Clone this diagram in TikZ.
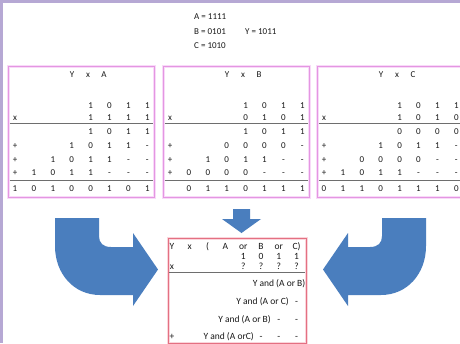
\documentclass[tikz,border=0pt]{standalone}
\usepackage{fontspec}
\setmainfont{Carlito}
\definecolor{framelilac}{RGB}{182,168,212}
\definecolor{boxpink}{RGB}{228,150,226}
\definecolor{boxglow}{RGB}{248,218,248}
\definecolor{resred}{RGB}{228,112,130}
\definecolor{resglow}{RGB}{250,214,220}
\definecolor{arrowblue}{RGB}{74,126,190}
\definecolor{rulegrey}{RGB}{110,110,110}
\definecolor{ink}{RGB}{25,25,25}
\tikzset{
  dig/.style={font=\fontsize{9}{10}\selectfont, text=ink, inner sep=0pt,
              text height=6pt, text depth=0pt, anchor=center},
  ttl/.style={dig},
  eqn/.style={dig, anchor=west},
  rdig/.style={dig, font=\fontsize{9.5}{11}\selectfont},
  rtxt/.style={rdig, anchor=east},
  panel/.style={draw=boxpink, line width=0.7pt},
  panelglow/.style={draw=boxglow, line width=3pt},
  respanel/.style={draw=resred, line width=0.7pt},
  resglowline/.style={draw=resglow, line width=3pt},
  sep/.style={draw=rulegrey, line width=0.8pt},
  bigarrow/.style={fill=arrowblue, draw=none}
}
% one row of a product table: #1 panel, #2 row tag, #3 panel left x, #4 y, #5 col/value list
\newcommand\tabrow[5]{%
  \foreach \c/\v in {#5}
    \node[dig] (#1-#2-\c) at ({#3+7+18.9*\c},#4) {\v};}
% one row of the result table: #1 row tag, #2 y, #3 col/value list
\newcommand\resrow[3]{%
  \foreach \c/\v in {#3}
    \node[rdig] (R-#1-\c) at ({172+17.8*\c},#2) {\v};}
\begin{document}
\begin{tikzpicture}[x=1pt,y=-1pt]
  \useasboundingbox (0,0) rectangle (460,343);
  \fill[white] (0,0) rectangle (460,343);
  \fill[framelilac] (0,0) rectangle (460,3);
  \fill[framelilac] (0,0) rectangle (2.6,343);

  % operands
  \node[eqn] (eqA) at (194,16.5) {A = 1111};
  \node[eqn] (eqB) at (194,31) {B = 0101};
  \node[eqn] (eqC) at (194,45.5) {C = 1010};
  \node[eqn] (eqY) at (245,31) {Y = 1011};

  % three product panels
  \foreach \L/\nm in {8/pA,163/pB,317/pC}{
    \path[panelglow] (\L,66.5) rectangle ++(146,130.5);
    \path[panel] (\L,66.5) rectangle ++(146,130.5);
    \path[sep] (\L+1.5,123.5) -- ++(143,0);
    \path[sep] (\L+1.5,180) -- ++(143,0);
  }

  % Y x A
  \node[ttl] (tA-Y) at (72,74) {Y};
  \node[ttl] (tA-x) at (88,74) {x};
  \node[ttl] (tA-o) at (104,74) {A};
  \tabrow{A}{r1}{8}{105}{4/1,5/0,6/1,7/1}
  \tabrow{A}{r2}{8}{117}{0/x,4/1,5/1,6/1,7/1}
  \tabrow{A}{r3}{8}{131}{4/1,5/0,6/1,7/1}
  \tabrow{A}{r4}{8}{145}{0/+,3/1,4/0,5/1,6/1,7/-}
  \tabrow{A}{r5}{8}{159}{0/+,2/1,3/0,4/1,5/1,6/-,7/-}
  \tabrow{A}{r6}{8}{172}{0/+,1/1,2/0,3/1,4/1,5/-,6/-,7/-}
  \tabrow{A}{r7}{8}{188}{0/1,1/0,2/1,3/0,4/0,5/1,6/0,7/1}

  % Y x B
  \node[ttl] (tB-Y) at (227,74) {Y};
  \node[ttl] (tB-x) at (243,74) {x};
  \node[ttl] (tB-o) at (259,74) {B};
  \tabrow{B}{r1}{163}{105}{4/1,5/0,6/1,7/1}
  \tabrow{B}{r2}{163}{117}{0/x,4/0,5/1,6/0,7/1}
  \tabrow{B}{r3}{163}{131}{4/1,5/0,6/1,7/1}
  \tabrow{B}{r4}{163}{145}{0/+,3/0,4/0,5/0,6/0,7/-}
  \tabrow{B}{r5}{163}{159}{0/+,2/1,3/0,4/1,5/1,6/-,7/-}
  \tabrow{B}{r6}{163}{172}{0/+,1/0,2/0,3/0,4/0,5/-,6/-,7/-}
  \tabrow{B}{r7}{163}{188}{1/0,2/1,3/1,4/0,5/1,6/1,7/1}

  % Y x C
  \node[ttl] (tC-Y) at (381,74) {Y};
  \node[ttl] (tC-x) at (397,74) {x};
  \node[ttl] (tC-o) at (413,74) {C};
  \tabrow{C}{r1}{317}{105}{4/1,5/0,6/1,7/1}
  \tabrow{C}{r2}{317}{117}{0/x,4/1,5/0,6/1,7/0}
  \tabrow{C}{r3}{317}{131}{4/0,5/0,6/0,7/0}
  \tabrow{C}{r4}{317}{145}{0/+,3/1,4/0,5/1,6/1,7/-}
  \tabrow{C}{r5}{317}{159}{0/+,2/0,3/0,4/0,5/0,6/-,7/-}
  \tabrow{C}{r6}{317}{172}{0/+,1/1,2/0,3/1,4/1,5/-,6/-,7/-}
  \tabrow{C}{r7}{317}{188}{0/0,1/1,2/1,3/0,4/1,5/1,6/1,7/0}

  % block arrows
  \path[bigarrow] (55,218) -- (99,218) -- (99,236)
      .. controls (99,243) and (103,247) .. (111,247)
      -- (133,247) -- (133,233) -- (158,269.5) -- (133,306) -- (133,295)
      -- (100,295) .. controls (74,295) and (55,274) .. (55,246) -- cycle;
  \path[bigarrow] (426,218) -- (382,218) -- (382,236)
      .. controls (382,243) and (378,247) .. (370,247)
      -- (348,247) -- (348,233) -- (323,269.5) -- (348,306) -- (348,295)
      -- (381,295) .. controls (407,295) and (426,274) .. (426,246) -- cycle;
  \path[bigarrow] (233,209) -- (250,209) -- (250,219) -- (261,219)
      -- (241.5,233) -- (222,219) -- (233,219) -- cycle;

  % combined result panel
  \path[resglowline] (168,238) rectangle (306,343);
  \path[respanel] (168,238) rectangle (306,343);
  \path[sep] (169,272) -- (305,272);
  \resrow{h}{246}{0/Y,1/x,2/(,3/A,4/or,5/B,6/or,7/C)}
  \resrow{v}{256}{4/1,5/0,6/1,7/1}
  \resrow{m}{266}{0/x,4/?,5/?,6/?,7/?}
  \node[rtxt] (R-p1) at (305.5,283) {Y and (A or B)};
  \node[rtxt] (R-p2) at (289,301) {Y and (A or C)};
  \resrow{p2}{301}{7/-}
  \node[rtxt] (R-p3) at (271,319) {Y and (A or B)};
  \resrow{p3}{319}{6/-,7/-}
  \node[rtxt] (R-p4) at (254,336) {Y and (A orC)};
  \resrow{p4}{336}{0/+,5/-,6/-,7/-}
\end{tikzpicture}
\end{document}
